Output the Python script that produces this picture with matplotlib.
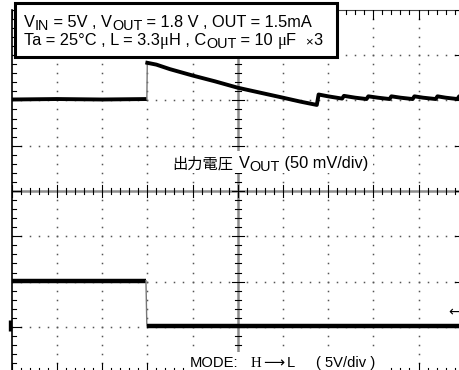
import numpy as np
import matplotlib.pyplot as plt
from matplotlib.patches import Rectangle

W, H = 459, 370

# Traces in divisions (x: 0..10, y: -4..4, 0 = centre line)
vout_x = [0.0, 1.0, 2.0, 2.99, 3.0, 3.2, 3.5, 4.0, 4.5, 5.0, 5.5, 6.0, 6.4, 6.75,
          6.79, 7.0, 7.31, 7.35, 7.6, 7.85, 7.89, 8.1, 8.36, 8.40, 8.6, 8.87,
          8.91, 9.1, 9.38, 9.42, 9.6, 9.86, 9.90, 10.0]
vout_y = [2.02, 2.03, 2.02, 2.03, 2.83, 2.79, 2.69, 2.55, 2.42, 2.28, 2.17, 2.06, 1.97, 1.90,
          2.13, 2.09, 2.04, 2.10, 2.06, 2.03, 2.09, 2.06, 2.03, 2.09, 2.06, 2.03,
          2.09, 2.06, 2.03, 2.09, 2.06, 2.03, 2.09, 2.07]

mode_x = [0.0, 2.97, 2.99, 10.0]
mode_y = [-1.98, -1.98, -2.98, -2.98]

sans = ['Liberation Sans', 'Noto Sans CJK JP', 'DejaVu Sans']
serif = ['Liberation Serif', 'DejaVu Serif']

fig = plt.figure(figsize=(W / 100, H / 100), dpi=100)
ax = fig.add_axes([11.7 / W, -2.2 / H, 452 / W, 362.4 / H])
ax.set_xlim(0, 10)
ax.set_ylim(-4, 4)
ax.axis('off')

px_x = 1 / 45.2   # one pixel in x divisions
px_y = 1 / 45.3   # one pixel in y divisions
fine_x = np.round(np.arange(0, 10.001, 0.2), 3)
fine_y = np.round(np.arange(-4, 4.001, 0.2), 3)

# dotted graticule
for gx in [1, 2, 3, 4, 6, 7, 8, 9]:
    ax.plot(np.full(len(fine_y), gx), fine_y, ls='none', marker='s', ms=1.1,
            mew=0, color='#555555')
for gy in [-3, -2, -1, 1, 2, 3]:
    ax.plot(fine_x, np.full(len(fine_x), gy), ls='none', marker='s', ms=1.1,
            mew=0, color='#555555')

# centre cross with ticks
ax.axhline(0, color='#8c8c8c', lw=1.8)
ax.axvline(5, color='#8c8c8c', lw=1.8)
for v in fine_x:
    h = (6 if abs(v - round(v)) < 1e-6 else 3) * px_y
    ax.plot([v, v], [-h, h], color='k', lw=0.8)
for v in fine_y:
    h = (6 if abs(v - round(v)) < 1e-6 else 3) * px_x
    ax.plot([5 - h, 5 + h], [v, v], color='k', lw=0.8)

# border and border ticks
ax.plot([0, 0], [-4, 4], color='k', lw=1.2, clip_on=False)
ax.plot([0, 10], [4, 4], color='#444444', lw=0.8, clip_on=False)
for v in fine_y:
    L = (9 if abs(v - round(v)) < 1e-6 else 4) * px_x
    ax.plot([0, L], [v, v], color='k', lw=0.8)
    ax.plot([10 - L, 10], [v, v], color='k', lw=0.8)
for v in fine_x:
    L = (9 if abs(v - round(v)) < 1e-6 else 4) * px_y
    ax.plot([v, v], [4 - L, 4], color='k', lw=0.8)
    ax.plot([v, v], [-4, -4 + L], color='k', lw=0.8)

# traces
ax.plot(vout_x[:4], vout_y[:4], color='k', lw=2.8, solid_capstyle='butt')
ax.plot(vout_x[3:5], vout_y[3:5], color='#777777', lw=1.0)
ax.plot(vout_x[4:], vout_y[4:], color='k', lw=2.8, solid_joinstyle='round')
ax.plot(mode_x[:2], mode_y[:2], color='k', lw=3.2, solid_capstyle='butt')
ax.plot(mode_x[1:3], mode_y[1:3], color='#777777', lw=1.0)
ax.plot(mode_x[2:], mode_y[2:], color='k', lw=3.2, solid_capstyle='butt')

# ground marker on the left and arrow on the right
ax.plot([-0.04, -0.04], [-2.84, -3.10], color='k', lw=2.4, clip_on=False,
        solid_capstyle='butt')
ax.text(9.92, -2.67, '\u2190', ha='right', va='center', fontsize=10,
        family=['DejaVu Sans'])

renderer = fig.canvas.get_renderer()


def text_width(s, **kw):
    a = fig.text(0, 0, '|' + s + '|', **kw)
    b = fig.text(0, 0, '||', **kw)
    w = a.get_window_extent(renderer).width - b.get_window_extent(renderer).width
    a.remove()
    b.remove()
    return w


def put_runs(x, y, runs, size=11):
    for run in runs:
        s, style = run[0], run[1]
        if len(run) > 2:
            x = run[2]
        kw = dict(fontsize=size, family=sans)
        dy = 0
        if style == 'sub':
            kw['fontsize'] = size * 0.88
            dy = 2.5
        elif style == 'serif':
            kw['family'] = serif
        elif style == 'small':
            kw['fontsize'] = size * 0.8
        elif style == 'cjk':
            kw['family'] = ['Noto Sans CJK JP']
            kw['fontsize'] = 11
        elif style == 'arrow':
            kw['family'] = ['DejaVu Sans']
            kw['fontsize'] = size
        fig.text(x / W, 1 - (y + dy) / H, s, va='baseline', ha='left',
                 zorder=5, **kw)
        x += text_width(s, **kw)


# condition box
fig.add_artist(Rectangle((15 / W, 1 - 57 / H), 322 / W, 54 / H,
                         transform=fig.transFigure, facecolor='white',
                         edgecolor='k', lw=2.2, zorder=4))
put_runs(24, 27, [('V', ''), ('IN', 'sub'), (' = 5V , V', ''), ('OUT', 'sub'),
                  (' = 1.8 V , OUT = 1.5mA', '')], size=11.8)
put_runs(24, 45, [('Ta = 25°C , L = 3.3', ''), ('\u03bc', 'serif'), ('H , C', ''),
                  ('OUT', 'sub'), (' = 10 ', ''), ('\u03bc', 'serif'), ('F  ', ''),
                  ('\u00d7', 'small'), ('3', '')], size=11.8)

# channel labels
fig.add_artist(Rectangle((169 / W, 1 - 173 / H), 204 / W, 22 / H,
                         transform=fig.transFigure, facecolor='white',
                         edgecolor='none', zorder=4))
put_runs(172, 168, [('出力電圧', 'cjk'), ('V', '', 239), ('OUT', 'sub'),
                    (' (50 mV/div)', '')], size=11.8)

fig.add_artist(Rectangle((187 / W, 0), 200 / W, 18 / H,
                         transform=fig.transFigure, facecolor='white',
                         edgecolor='none', zorder=4))
put_runs(190, 367, [('MODE:', ''), ('H', 'serif', 251), ('\u27f6', 'arrow', 263),
                    ('L', '', 287), ('( 5V/div )', '', 316)], size=10.6)

plt.savefig('out.png', dpi=100)
